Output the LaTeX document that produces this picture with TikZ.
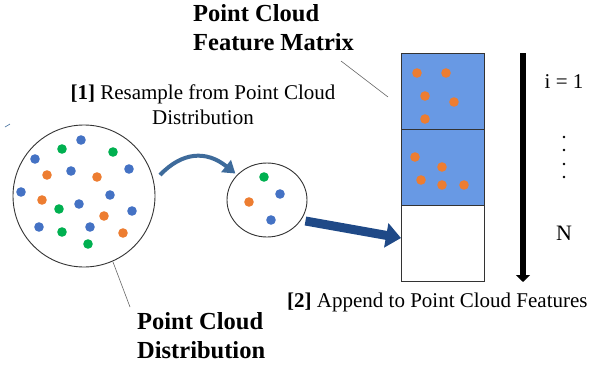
\documentclass[tikz,border=0pt]{standalone}
\usepackage{fontspec}
\setmainfont{Liberation Serif}
\usetikzlibrary{arrows.meta,shapes.geometric}
\definecolor{dblue}{RGB}{68,114,196}
\definecolor{dorange}{RGB}{237,125,49}
\definecolor{dgreen}{RGB}{0,176,80}
\definecolor{cellblue}{RGB}{104,153,228}
\definecolor{steel}{RGB}{62,107,155}
\definecolor{navy}{RGB}{31,73,135}
\tikzset{
  cell/.style={draw=black!80, line width=0.9pt, minimum width=83pt, minimum height=76pt, inner sep=0pt, outer sep=0pt},
  boldlbl/.style={font=\fontsize{24.5}{29}\selectfont\bfseries, align=left, inner sep=0pt},
  plainlbl/.style={font=\fontsize{21}{25}\selectfont, align=center, inner sep=0pt},
  leader/.style={draw=black!60, line width=0.6pt}
}
\newcommand{\pdot}[3]{\fill[#1] (#2,#3) circle (4.8pt);}
\begin{document}
\begin{tikzpicture}[x=1pt,y=-1pt]
\useasboundingbox (0,0) rectangle (597,367);
% big distribution circle
\node[circle, draw=black!80, line width=0.9pt, minimum size=142pt, inner sep=0pt] (big) at (84,196) {};
\pdot{dblue}{81}{140}
\pdot{dgreen}{62}{149}
\pdot{dgreen}{113}{152}
\pdot{dblue}{35}{159}
\pdot{dorange}{47}{175}
\pdot{dblue}{71}{171}
\pdot{dorange}{97}{177}
\pdot{dblue}{129}{169}
\pdot{dblue}{21}{192}
\pdot{dorange}{42}{200}
\pdot{dgreen}{59}{209}
\pdot{dblue}{79}{204}
\pdot{dblue}{110}{195}
\pdot{dorange}{104}{216}
\pdot{dblue}{132}{211}
\pdot{dblue}{39}{227}
\pdot{dgreen}{62}{232}
\pdot{dblue}{90}{227}
\pdot{dorange}{123}{233}
\pdot{dgreen}{88}{244}
% small mark
\draw[steel, line width=0.6pt] (5,127) -- (10,124);
% small sample ellipse
\node[ellipse, draw=black!80, line width=0.9pt, minimum width=80pt, minimum height=74pt, inner sep=0pt] (small) at (267,200) {};
\pdot{dgreen}{264}{177}
\pdot{dblue}{280}{194}
\pdot{dorange}{249}{202}
\pdot{dblue}{271}{220}
% matrix cells
\node[cell, fill=cellblue] (c1) at (442.5,91) {};
\node[cell, fill=cellblue, anchor=north] (c2) at (c1.south) {};
\node[cell, fill=white, anchor=north] (c3) at (c2.south) {};
\pdot{dorange}{417}{73}
\pdot{dorange}{446}{73}
\pdot{dorange}{425}{96}
\pdot{dorange}{454}{102}
\pdot{dorange}{425}{119}
\pdot{dorange}{415}{157}
\pdot{dorange}{442}{167}
\pdot{dorange}{421}{180}
\pdot{dorange}{442}{185}
\pdot{dorange}{464}{185}
% index arrow
\coordinate (itop) at (523,53);
\coordinate (ibot) at (523,282);
\draw[line width=6pt, -{Triangle[length=7pt,width=14pt]}] (itop) -- (ibot);
\node[font=\fontsize{21}{24}\selectfont, inner sep=0pt] (i1) at (564,82) {i = 1};
\foreach \yy in {137,150,164,177} \fill (564,\yy) circle (1.4pt);
\node[font=\fontsize{22}{24}\selectfont, inner sep=0pt] (nn) at (564,233) {N};
% arrows
\coordinate (cstart) at (160,175);
\draw[steel, line width=4pt, -{Triangle[length=12pt,width=15pt]}] (cstart) .. controls (182,152) and (206,150) .. ([xshift=-3pt]small.north west);
\draw[navy, line width=9pt, -{Triangle[length=15pt,width=24pt]}] (small.east |- 0,221) ++(-2,0) coordinate (nstart) -- (c3.west |- 0,238);
% labels
\node[boldlbl, anchor=west] (fm) at (193,28) {Point Cloud\\Feature Matrix};
\node[plainlbl] (rs) at (203,105) {\textbf{[1]} Resample from Point Cloud\\Distribution};
\node[plainlbl, anchor=west] (ap) at (287,302) {\textbf{[2]} Append to Point Cloud Features};
\node[boldlbl, anchor=west] (pd) at (137,336) {Point Cloud\\Distribution};
% leaders
\coordinate (fml) at (341,61);
\coordinate (fmr) at (388,97);
\draw[leader] (fml) -- (fmr);
\coordinate (pdl) at (113,262);
\coordinate (pdr) at (130,307);
\draw[leader] (pdl) -- (pdr);
\end{tikzpicture}
\end{document}
